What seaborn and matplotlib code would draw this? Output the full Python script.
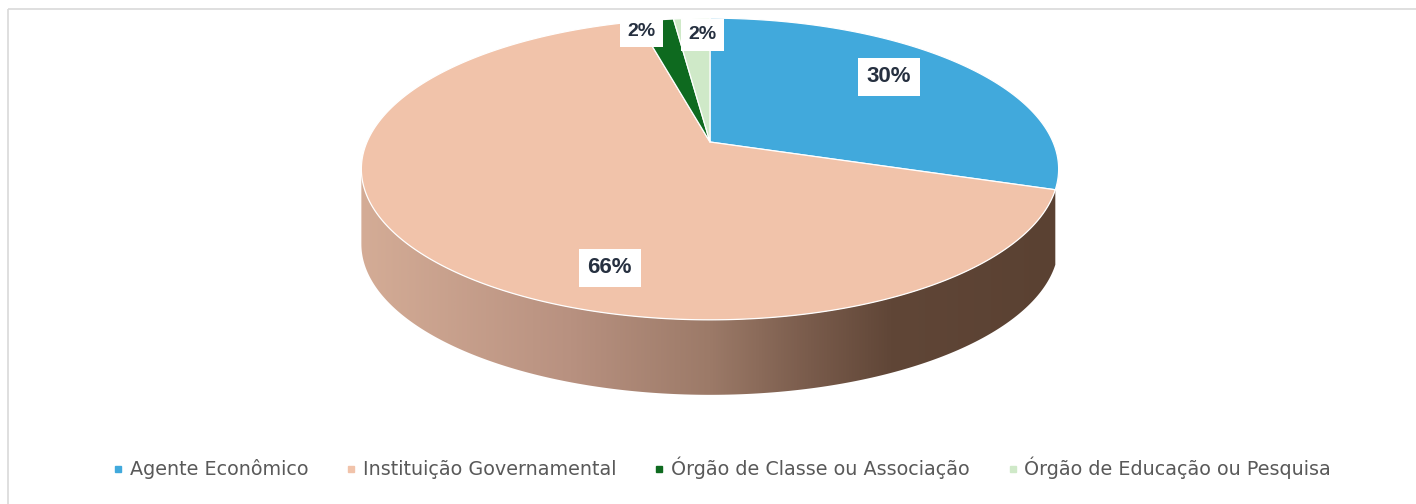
import numpy as np
import matplotlib
matplotlib.use("Agg")
import matplotlib.pyplot as plt
import seaborn as sns
from matplotlib.patches import Polygon, Rectangle
from matplotlib.lines import Line2D
from matplotlib.colors import LinearSegmentedColormap

# ---------------- data ----------------
categories = ["Agente Econômico", "Instituição Governamental",
              "Órgão de Classe ou Associação", "Órgão de Educação ou Pesquisa"]
values = [30, 66, 2, 2]

# ---------------- style ----------------
top_colors = sns.color_palette(["#41A9DC", "#F1C3AA", "#0E6A1F", "#CFE9C8"])
side_colors = ["skip", "gradient", "#0A4A15", "#9DB897"]
side_cmap = LinearSegmentedColormap.from_list(
    "side", [(0.0, "#D4AC96"), (0.3, "#B89180"), (0.5, "#9C7A68"),
             (0.64, "#7A5C4C"), (0.76, "#604637"), (1.0, "#5A4132")])
label_layout = [(49.5, 0.745), (198.7, 0.789), (345.2, 0.91), (358.2, 0.844)]
label_sizes = [16, 16, 14, 14]

sns.set_theme(style="white")
plt.rcParams['font.family'] = ['DejaVu Sans']

W, H = 1416, 504
fig = plt.figure(figsize=(W / 100, H / 100), dpi=100)
ax = fig.add_axes([0, 0, 1, 1])
ax.axis('off')

CX, CY, A, B, K, D = 710, 142, 343, 146, 0.179, 75


def proj(phi_deg, r=1.0):
    p = np.radians(phi_deg)
    u = r * np.sin(p)
    v = -r * np.cos(p)
    s = 1.0 / (1.0 - K * v)
    return CX + A * u * s, CY + B * v * s


fracs = np.array(values, dtype=float) / np.sum(values)
bounds = np.concatenate([[0.0], np.cumsum(fracs) * 360.0])

phi_right = np.degrees(np.arccos(-K))
phi_left = 360.0 - phi_right

# ---- side (front rim) ----
for i in range(len(values)):
    a = max(bounds[i], phi_right)
    b = min(bounds[i + 1], phi_left)
    if b <= a or side_colors[i] == "skip":
        continue
    ph = np.linspace(a, b, 200)
    xs, ys = proj(ph)
    pts = np.vstack([np.column_stack([xs, ys]),
                     np.column_stack([xs[::-1], ys[::-1] + D])])
    if side_colors[i] == "gradient":
        poly = Polygon(pts, closed=True, facecolor='none', edgecolor='none', zorder=1)
        ax.add_patch(poly)
        xl, _ = proj(phi_left)
        xr, _ = proj(phi_right)
        grad = np.linspace(0, 1, 512).reshape(1, -1)
        im = ax.imshow(grad, extent=[xl, xr, ys.max() + D + 5, ys.min() - 5],
                       cmap=side_cmap, aspect='auto', zorder=1, interpolation='bilinear')
        im.set_clip_path(poly)
    else:
        ax.add_patch(Polygon(pts, closed=True, facecolor=side_colors[i],
                             edgecolor='none', zorder=1))

# ---- top face ----
for i in range(len(values)):
    ph = np.linspace(bounds[i], bounds[i + 1], max(4, int((bounds[i + 1] - bounds[i]) * 3)))
    xs, ys = proj(ph)
    pts = np.vstack([[CX, CY], np.column_stack([xs, ys])])
    ax.add_patch(Polygon(pts, closed=True, facecolor=top_colors[i],
                         edgecolor='white', linewidth=0.9, joinstyle='round', zorder=2))

# ---- labels ----
for i, v in enumerate(values):
    phi, r = label_layout[i]
    x, y = proj(phi, r)
    ax.text(x, y, f"{v:.0f}%", ha='center', va='center', fontsize=label_sizes[i],
            fontweight='bold', color='#263040', family=['Liberation Sans', 'DejaVu Sans'],
            bbox=dict(boxstyle='square,pad=0.38', facecolor='white', edgecolor='none'),
            zorder=5)

ax.set_xlim(0, W)
ax.set_ylim(H, 0)

# ---- frame ----
ax.add_patch(Rectangle((8, 9), W + 20, H + 20, fill=False, edgecolor='#D9D9D9',
                       linewidth=1.2, zorder=0))

# ---- legend ----
handles = [Line2D([], [], marker='s', linestyle='', color=top_colors[i], markersize=5)
           for i in range(len(categories))]
fig.legend(handles, categories, loc='center', bbox_to_anchor=(722 / W, 1 - 468 / H),
           ncol=4, frameon=False, fontsize=13.8, labelcolor='#595959',
           handlelength=0.5, handletextpad=0.35, columnspacing=2.0)

fig.savefig("out.png", dpi=100)
